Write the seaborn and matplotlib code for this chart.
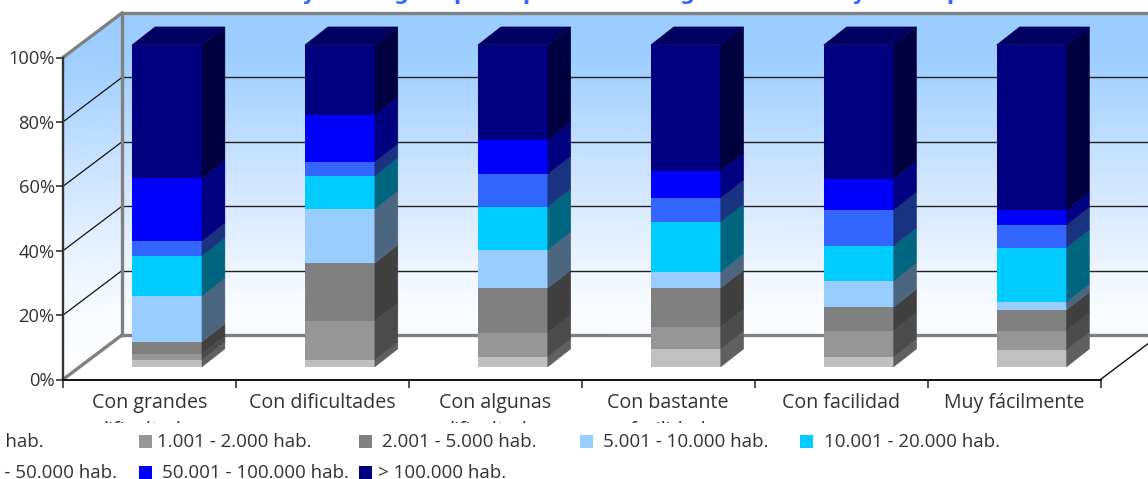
import matplotlib
matplotlib.use('Agg')
import matplotlib.pyplot as plt
import seaborn as sns
import numpy as np
from matplotlib.colors import LinearSegmentedColormap, to_rgb
from matplotlib.patches import Polygon, Rectangle

# Chart data (percent of each category)
categories = ['Con grandes\ndificultades', 'Con dificultades', 'Con algunas\ndificultades',
              'Con bastante\nfacilidad', 'Con facilidad', 'Muy fácilmente']
y_ticks = [0, 20, 40, 60, 80, 100]
y_tick_labels = ['0%', '20%', '40%', '60%', '80%', '100%']

s_1000 = [2.2, 2.2, 3.1, 5.6, 3.1, 5.3]
s_2000 = [1.8, 12.1, 7.5, 6.8, 8.1, 5.9]
s_5000 = [3.8, 18.0, 13.9, 12.1, 7.4, 6.5]
s_10000 = [14.2, 16.8, 11.8, 5.0, 8.1, 2.5]
s_20000 = [12.5, 10.2, 13.4, 15.5, 10.9, 16.8]
s_50000 = [4.6, 4.4, 10.2, 7.5, 11.2, 7.1]
s_100000 = [19.6, 14.6, 10.6, 8.4, 9.6, 4.7]
s_more = [41.3, 21.7, 29.5, 39.1, 41.6, 51.2]

series = [s_1000, s_2000, s_5000, s_10000, s_20000, s_50000, s_100000, s_more]
colors = ['#C0C0C0', '#969696', '#808080', '#99CCFF', '#00CCFF', '#3366FF', '#0000FF', '#000080']

# Legend is cut by the left edge of the image in the original
legend_labels = ['≤ 1.000 hab.', '1.001 - 2.000 hab.', '2.001 - 5.000 hab.', '5.001 - 10.000 hab.',
                 '10.001 - 20.000 hab.', '20.001 - 50.000 hab.', '50.001 - 100.000 hab.', '> 100.000 hab.']

# Only the descenders of the title survive the crop at the top
title_letters = ['y', 'g', 'p', 'p', 'g', 'y', 'p']
title_letter_x = [309, 401, 461, 530, 687, 859, 954]

W, H = 1148, 479
plt.rcParams['font.family'] = ['Open Sans', 'DejaVu Sans']
TEXT = '#333333'

fig = plt.figure(figsize=(W / 100, H / 100), dpi=100, facecolor='white')


def px_axes(x0, y0, x1, y1):
    # axes from pixel box (y measured from the top of the image)
    return fig.add_axes([x0 / W, (H - y1) / H, (x1 - x0) / W, (y1 - y0) / H])


# front plane of the chart, holds axis lines and the walls
ax = px_axes(63, 57.5, 1100.5, 379.5)
ax.set_xlim(-0.5, 5.5)
ax.set_ylim(0, 100)
ax.patch.set_alpha(0)

x_per_px = 6 / 1037.5
y_per_px = 100 / 322
back_dx, back_dy = 59 * x_per_px, 44.5 * y_per_px

# walls: the gradient runs with the screen height over both of them
wall_cmap = LinearSegmentedColormap.from_list(
    'wall', [(0, '#FFFFFF'), (0.22, '#F6FAFF'), (0.55, '#D0E5FF'), (0.88, '#9ECEFF'), (1, '#9BCDFF')])
xl, xr = -0.5, 5.5
top_y = 100 + back_dy
rows = np.linspace(0, 1, 50)
ys_back = back_dy + rows * 100
ys_side = rows * 100
ax.pcolormesh(np.tile([xl + back_dx, xr + back_dx], (50, 1)),
              np.column_stack([ys_back, ys_back]),
              np.column_stack([ys_back, ys_back]) / top_y,
              shading='gouraud', cmap=wall_cmap, vmin=0, vmax=1, clip_on=False, zorder=1)
side_y = np.column_stack([ys_side, ys_side + back_dy])
ax.pcolormesh(np.tile([xl, xl + back_dx], (50, 1)), side_y, side_y / top_y,
              shading='gouraud', cmap=wall_cmap, vmin=0, vmax=1, clip_on=False, zorder=1)

# grid lines on both walls
for t in y_ticks[1:-1]:
    ax.plot([xl, xl + back_dx], [t, t + back_dy], color='#111111', lw=0.9, clip_on=False, zorder=2)
    ax.plot([xl + back_dx, xr + back_dx], [t + back_dy, t + back_dy], color='#222222', lw=1.0,
            clip_on=False, zorder=2)

# gray frame
frame = dict(color='#808080', lw=2.4, clip_on=False, zorder=3, solid_capstyle='projecting')
ax.plot([xl, xl + back_dx], [100, 100 + back_dy], **frame)
ax.plot([xl, xl + back_dx], [0, back_dy], **frame)
ax.plot([xl + back_dx, xl + back_dx], [back_dy, 100 + back_dy], **frame)
ax.plot([xl + back_dx, xr + back_dx], [100 + back_dy, 100 + back_dy], **frame)
ax.plot([xl + back_dx, xr + back_dx], [back_dy, back_dy], **frame)
ax.plot([xr, xr + back_dx], [0, back_dy], color='#111111', lw=1.0, clip_on=False, zorder=2)

# axis lines and labels
for side in ['top', 'right']:
    ax.spines[side].set_visible(False)
ax.spines['left'].set_color('#333333')
ax.spines['left'].set_linewidth(1.7)
ax.spines['left'].set_zorder(4)
ax.spines['bottom'].set_color('#111111')
ax.spines['bottom'].set_linewidth(1.4)
ax.spines['bottom'].set_zorder(4)
ax.set_yticks(y_ticks, y_tick_labels, fontsize=13.2, color=TEXT)
ax.tick_params(axis='y', length=5, width=1.2, color='#333333', pad=1)
ax.set_xticks(range(6), categories, fontsize=14.1, color=TEXT, linespacing=1.5)
ax.tick_params(axis='x', which='major', length=0, pad=10)
ax.set_xticks(np.arange(-0.5, 6), minor=True)
ax.tick_params(axis='x', which='minor', length=6, width=1.2, color='#333333')
for lab in ax.get_xticklabels():
    lab.set_verticalalignment('top')

# bars sit a little behind the front plane
shift_x, shift_y = 17.5, 12.6
bax = px_axes(63 + shift_x, 57.5 - shift_y, 1100.5 + shift_x, 379.5 - shift_y)
bax.patch.set_alpha(0)

bar_w = 70 / 173
depth_dx, depth_dy = 23 * x_per_px, 18 * y_per_px
bottoms = np.zeros(len(categories))
for vals, col in zip(series, colors):
    sns.barplot(x=categories, y=vals, bottom=bottoms, color=col, saturation=1, width=bar_w,
                order=categories, linewidth=0, errorbar=None, ax=bax, zorder=5)
    dark = tuple(c * 0.5 for c in to_rgb(col))
    for i, (b, v) in enumerate(zip(bottoms, vals)):
        x1 = i + bar_w / 2
        bax.add_patch(Polygon([(x1, b), (x1 + depth_dx, b + depth_dy),
                               (x1 + depth_dx, b + v + depth_dy), (x1, b + v)],
                              closed=True, facecolor=dark, edgecolor=dark, lw=0.3,
                              clip_on=False, zorder=5))
    bottoms = bottoms + np.array(vals)

# caps of the columns, colour of the top series
top_col = tuple(c * 0.75 for c in to_rgb(colors[-1]))
for i, t in enumerate(bottoms):
    x0, x1 = i - bar_w / 2, i + bar_w / 2
    bax.add_patch(Polygon([(x0, t), (x1, t), (x1 + depth_dx, t + depth_dy), (x0 + depth_dx, t + depth_dy)],
                          closed=True, facecolor=top_col, edgecolor=top_col, lw=0.3,
                          clip_on=False, zorder=5))
bax.set_xlim(-0.5, 5.5)
bax.set_ylim(0, 100)
bax.axis('off')

# white box of the legend hides the second line of the tick labels
fig.add_artist(Rectangle((0, 0), 1, (H - 423) / H, transform=fig.transFigure, facecolor='white',
                         edgecolor='none', zorder=5))

# legend laid out by hand: two rows, cut at the left
legend_swatch_x = [None, 139, 359, 580, 800, None, 139, 359]
legend_text_x = [44, 157, 382, 603, 824, 117, 162, 378]
legend_row_y = [0, 0, 0, 0, 0, 1, 1, 1]
row_px = [442, 473]
for k, label in enumerate(legend_labels):
    y = row_px[legend_row_y[k]]
    if legend_swatch_x[k] is None:
        fig.text(legend_text_x[k] / W, (H - y) / H, label, ha='right', va='center', fontsize=13.5,
                 color=TEXT, zorder=6)
    else:
        fig.add_artist(Rectangle((legend_swatch_x[k] / W, (H - y - 5.5) / H), 13 / W, 13 / H,
                                 transform=fig.transFigure, facecolor=colors[k], edgecolor='none', zorder=6))
        fig.text(legend_text_x[k] / W, (H - y) / H, label, ha='left', va='center', fontsize=13.5,
                 color=TEXT, zorder=6)
# the picture is cut just inside the left edge
fig.add_artist(Rectangle((0, 0), 4.5 / W, (H - 423) / H, transform=fig.transFigure, facecolor='white',
                         edgecolor='none', zorder=7))

for letter, x in zip(title_letters, title_letter_x):
    fig.text(x / W, (H + 0.5) / H, letter, ha='center', va='baseline', fontsize=15,
             fontweight='bold', color='#3366FF', family='DejaVu Sans')

fig.savefig('out.png', dpi=100)
